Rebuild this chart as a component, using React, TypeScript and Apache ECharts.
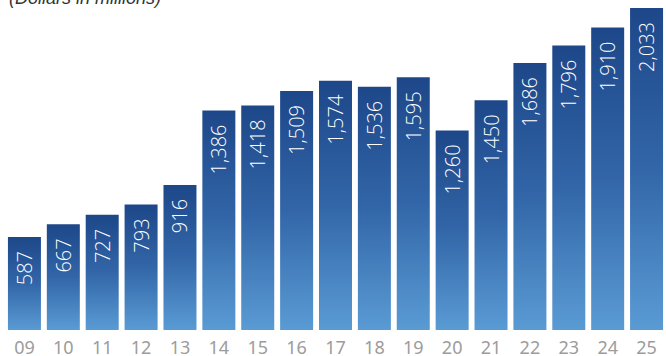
import React, { useEffect, useRef } from "react";
import * as echarts from "echarts";

const categories = ["09", "10", "11", "12", "13", "14", "15", "16", "17", "18", "19", "20", "21", "22", "23", "24", "25"];
const values = [587, 667, 727, 793, 916, 1386, 1418, 1509, 1574, 1536, 1595, 1260, 1450, 1686, 1796, 1910, 2033];
const title = "(Dollars in millions)";

export default function App() {
  const ref = useRef<HTMLDivElement>(null);
  useEffect(() => {
    if (!ref.current) return;
    const chart = echarts.init(ref.current, null, { renderer: "svg" });
    chart.setOption({
      animation: false,
      graphic: [
        {
          type: "text",
          left: 9,
          top: -11,
          style: {
            text: title,
            font: "italic 18px 'Liberation Sans', Arial, sans-serif",
            fill: "#333333",
          },
        },
      ],
      grid: { left: 5, right: -2, top: 8, bottom: 25, containLabel: false },
      xAxis: {
        type: "category",
        data: categories,
        axisLine: { show: false },
        axisTick: { show: false },
        axisLabel: {
          color: "#9c9c9c",
          fontSize: 18,
          lineHeight: 16,
          fontFamily: "'Noto Sans', sans-serif",
          margin: 9,
        },
      },
      yAxis: {
        type: "value",
        min: 0,
        max: 2033,
        show: false,
        splitLine: { show: false },
      },
      series: [
        {
          type: "bar",
          data: values,
          barWidth: 33,
          itemStyle: {
            color: new echarts.graphic.LinearGradient(0, 0, 0, 1, [
              { offset: 0, color: "#1d4789" },
              { offset: 0.5, color: "#3266a8" },
              { offset: 1, color: "#5a9bd4" },
            ]),
          },
          label: {
            show: true,
            position: "insideTop",
            rotate: 90,
            align: "right",
            verticalAlign: "middle",
            distance: 14,
            color: "#ffffff",
            fontSize: 20,
            fontWeight: 300,
            fontFamily: "'Open Sans', sans-serif",
            formatter: (p: any) => Number(p.value).toLocaleString("en-US"),
          },
        },
      ],
    });
    return () => chart.dispose();
  }, []);
  return <div ref={ref} style={{ width: 666, height: 356, position: "absolute", left: 0, top: 0 }} />;
}
